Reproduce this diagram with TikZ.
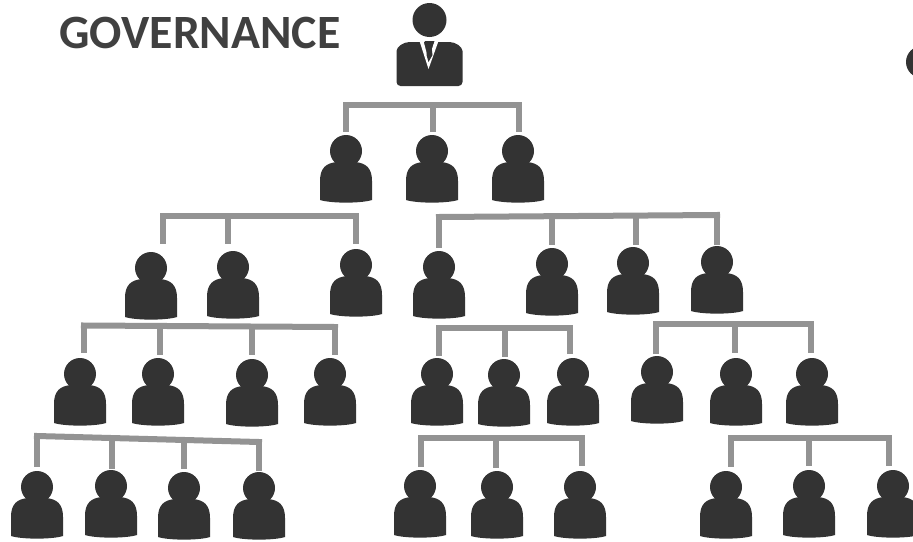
\documentclass[tikz,border=0pt]{standalone}
\usepackage{fontspec}
\setmainfont{Carlito}
\definecolor{figdark}{HTML}{333333}
\definecolor{linkgray}{HTML}{939393}
\definecolor{titledark}{HTML}{404040}
\tikzset{
  person/.style={minimum width=52pt, minimum height=68pt, inner sep=0pt, outer sep=0pt,
    path picture={
      \begin{scope}[shift={(path picture bounding box.center)}, x=1pt, y=-1pt]
        \fill[figdark] (0,-18) circle (16);
        \fill[figdark] (-9,-12) rectangle (9,-2);
        \fill[figdark] (-26,31) -- (-26,12) .. controls (-26,-1) and (-20,-6) .. (-9,-7)
          -- (9,-7) .. controls (20,-6) and (26,-1) .. (26,12) -- (26,31)
          .. controls (15,34.5) and (-15,34.5) .. (-26,31) -- cycle;
      \end{scope}
    }},
  boss/.style={minimum width=66pt, minimum height=84pt, inner sep=0pt, outer sep=0pt,
    path picture={
      \begin{scope}[shift={(path picture bounding box.center)}, x=1pt, y=-1pt]
        \fill[figdark] (0,-25) circle (17);
        \fill[figdark, rounded corners=4pt] (-33,41) -- (-33,10) .. controls (-33,2) and (-26,-3) .. (-16,-3)
          -- (16,-3) .. controls (26,-3) and (33,2) .. (33,10) -- (33,41) -- cycle;
        \fill[white] (-10,-4) -- (-1,24) -- (9,-4) -- (5,-4) -- (-1,15) -- (-6,-4) -- cycle;
        \fill[figdark] (-5,-4) -- (5,-4) -- (2,2) -- (3,10) -- (-1,17) -- (-3,10) -- (-2,2) -- cycle;
      \end{scope}
    }},
  edgehead/.style={circle, minimum size=32pt, inner sep=0pt, fill=figdark},
  link/.style={draw=linkgray, line width=6pt},
  rail/.style={link, line cap=rect},
  heading/.style={text=titledark, font=\fontsize{47.8}{50}\selectfont\bfseries, inner sep=0pt}
}
\begin{document}
\begin{tikzpicture}[x=1pt, y=-1pt]
\clip (0,0) rectangle (913,541);

\node[heading] (title) at (200,33) {GOVERNANCE};
\node[boss] (top) at (429.5,45) {};
\node[edgehead] (edge) at (922,62) {};

% people, one row after the other
\foreach \who/\x/\y in {p21/346/169, p22/432/169, p23/518/169,
  p31/151/286, p32/233/285, p33/356/283, p34/439/285, p35/552/282, p36/633/281, p37/717/280,
  p41/80/392, p42/158/392, p43/252/393, p44/330/392, p45/437/392, p46/504/393, p47/573/392,
  p48/657/390, p49/736/392, p410/812/392,
  p51/37/505, p52/111/504, p53/184/506, p54/259/506, p55/420/504, p56/497/505, p57/580/505,
  p58/726/505, p59/809/504, p510/893/504}
  \node[person] (\who) at (\x,\y) {};

% points on the rails
\foreach \pt/\x/\y in {a1/346/105, a2/433/105, a3/519/105,
  b1/163/216, b2/228/216, b3/356/216,
  c1/439/217, c2/552/216.4, c3/636/215.8, c4/717/215,
  d1/84/325.5, d2/160/326, d3/252/326.5, d4/335/327,
  e1/439/328, e2/505/328, e3/570/328,
  f1/656/324, f2/735/324, f3/811/324,
  g1/37/436, g2/112/438, g3/184/440, g4/259/442,
  h1/421/438, h2/496/438, h3/582/438,
  k1/731/438, k2/809/438, k3/889/438}
  \coordinate (\pt) at (\x,\y);

% rails
\foreach \from/\to in {a1/a3, b1/b3, c1/c4, d1/d4, e1/e3, f1/f3, g1/g4, h1/h3, k1/k3}
  \draw[rail] (\from) -- (\to);

% stems
\foreach \pt/\who/\gap in {a1/p21/3, a2/p22/3, a3/p23/3,
  b1/p31/8, b2/p32/7, b3/p33/5,
  c1/p34/3, c2/p35/3, c3/p36/2, c4/p37/1,
  d1/p41/5, d2/p42/3, d3/p43/4, d4/p44/3,
  e1/p45/2, e2/p46/2, e3/p47/4,
  f1/p48/2, f2/p49/5, f3/p410/5,
  g1/p51/4, g2/p52/1, g3/p53/3, g4/p54/1,
  h1/p55/3, h2/p56/3, h3/p57/5,
  k1/p58/4, k2/p59/4, k3/p510/4}
  \draw[link, shorten >=\gap pt] (\pt) -- (\pt |- \who.north);
\end{tikzpicture}
\end{document}
